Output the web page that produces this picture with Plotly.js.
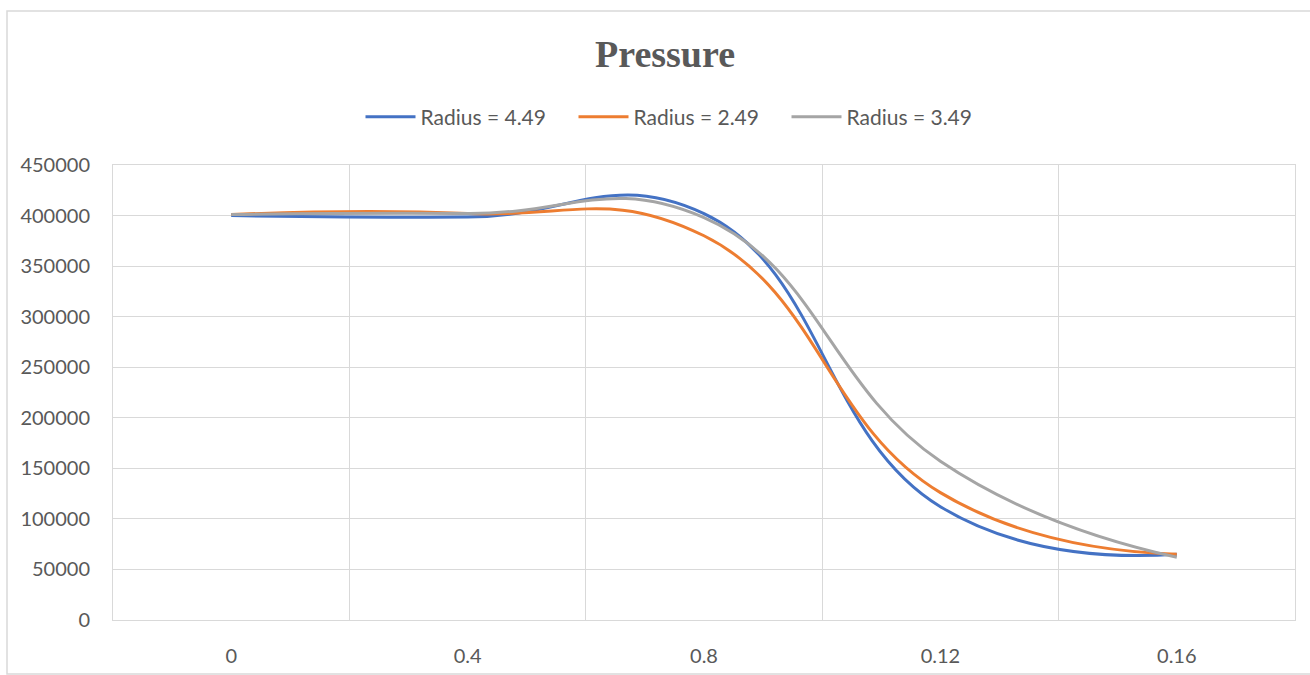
<!DOCTYPE html>
<html>
<head>
<meta charset="utf-8">
<script src="https://cdn.plot.ly/plotly-3.0.1.min.js"></script>
<style>
  html, body { margin: 0; padding: 0; background: #ffffff; }
  #chart { width: 1310px; height: 675px; }
</style>
</head>
<body>
<div id="chart"></div>
<script>
// Category labels (as printed on the x axis)
const xLabels = ["0", "0.4", "0.8", "0.12", "0.16"];

// Series values (pressure)
const radius449 = [400000, 398500, 402000, 112000, 65000];
const radius249 = [401000, 402000, 380000, 126000, 65000];
const radius349 = [401000, 402000, 398000, 157000, 62000];

const seriesNames = ["Radius = 4.49", "Radius = 2.49", "Radius = 3.49"];
const seriesColors = ["#4472C4", "#ED7D31", "#A5A5A5"];
const seriesValues = [radius449, radius249, radius349];

const yTicks = [0, 50000, 100000, 150000, 200000, 250000, 300000, 350000, 400000, 450000];

const traces = seriesValues.map((vals, i) => ({
  type: "scatter",
  mode: "lines",
  name: seriesNames[i],
  x: xLabels,
  y: vals,
  line: { color: seriesColors[i], width: 3, shape: "spline", smoothing: 1.3 },
  hoverinfo: "x+y+name"
}));

const gridColor = "#d9d9d9";
const textColor = "#595959";
const font = "Lato, 'Open Sans', sans-serif";

const layout = {
  width: 1310,
  height: 675,
  paper_bgcolor: "#ffffff",
  plot_bgcolor: "#ffffff",
  margin: { l: 113, r: 15, t: 165, b: 55 },
  title: {
    text: "<b>Pressure</b>",
    font: { family: "'Liberation Serif', 'Times New Roman', serif", size: 38, color: textColor },
    x: 665 / 1310,
    xanchor: "center",
    y: 1 - 54 / 675,
    yanchor: "middle"
  },
  showlegend: true,
  legend: {
    orientation: "h",
    xref: "container",
    yref: "container",
    x: 680 / 1310,
    xanchor: "center",
    y: 1 - 117 / 675,
    yanchor: "middle",
    font: { family: font, size: 21, color: textColor },
    bgcolor: "rgba(0,0,0,0)",
    traceorder: "normal",
    itemwidth: 50,
    entrywidth: 148,
    entrywidthmode: "pixels"
  },
  xaxis: {
    type: "category",
    tickson: "boundaries",
    range: [-0.5, 4.5],
    showgrid: true,
    gridcolor: gridColor,
    gridwidth: 1,
    showline: true,
    mirror: true,
    linecolor: gridColor,
    linewidth: 1,
    ticks: "",
    zeroline: false,
    ticklabelstandoff: 18,
    tickfont: { family: font, size: 20, color: textColor },
    fixedrange: true
  },
  yaxis: {
    range: [0, 450000],
    tickvals: yTicks,
    tickformat: "d",
    showgrid: true,
    gridcolor: gridColor,
    gridwidth: 1,
    showline: true,
    mirror: true,
    linecolor: gridColor,
    linewidth: 1,
    zeroline: false,
    ticks: "",
    ticklabelstandoff: 18,
    tickfont: { family: font, size: 20, color: textColor },
    fixedrange: true
  },
  shapes: [{
    type: "rect",
    xref: "paper", yref: "paper",
    x0: (7 - 113) / 1182, x1: (1318 - 113) / 1182,
    y0: (620 - 674) / 455, y1: (620 - 11) / 455,
    line: { color: gridColor, width: 1.5 },
    fillcolor: "rgba(0,0,0,0)",
    layer: "below"
  }]
};

Plotly.newPlot("chart", traces, layout, { displayModeBar: false, staticPlot: true });
</script>
</body>
</html>
